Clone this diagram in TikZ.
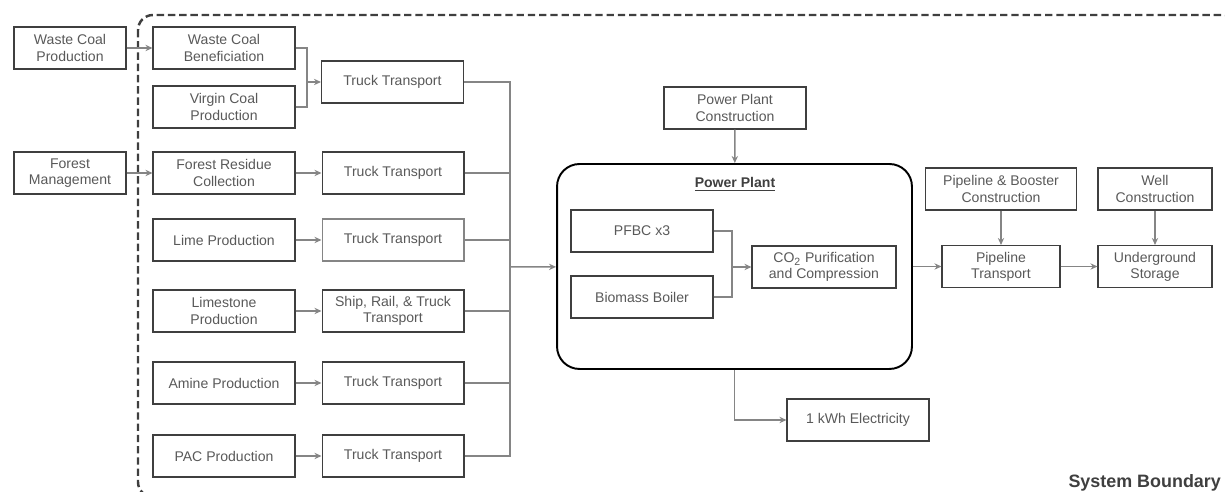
\documentclass[tikz,border=0pt]{standalone}
\usepackage{fontspec}
\setmainfont{Liberation Sans}
\usetikzlibrary{arrows.meta,positioning}
\definecolor{lcatext}{HTML}{595959}
\definecolor{lcaline}{HTML}{858585}
\definecolor{lcabox}{HTML}{3F3F3F}
\begin{document}
\begin{tikzpicture}[x=0.02cm, y=-0.02cm,
  box/.style={draw=lcabox, line width=0.6pt, align=center, text=lcatext,
    font=\fontsize{8}{9.2}\selectfont, minimum width=2.84cm,
    minimum height=0.84cm, inner sep=1pt},
  lbox/.style={box, draw=lcaline},
  flow/.style={draw=lcaline, line width=0.85pt, -{Stealth[length=4pt,width=3.6pt]}},
  link/.style={draw=lcaline, line width=0.85pt},
  >=Stealth, node distance=5.2mm]
  \useasboundingbox (0,0) rectangle (1225,492);
  % system boundary
  \begin{scope}
    \clip (0,0) rectangle (1225,492);
    \draw[lcabox, line width=1.4pt, dash pattern=on 4.2pt off 2.2pt,
      rounded corners=0.3cm] (138,15) rectangle (1238,497);
  \end{scope}
  \node[font=\bfseries\fontsize{10.2}{12}\selectfont, text=lcabox, anchor=east,
    inner sep=1pt] (sb) at (1223,483) {System Boundary};
  % feedstocks
  \node[box, minimum width=2.24cm] (wcp) at (70,48) {Waste Coal\\ Production};
  \node[box] (wcb) at (224,48) {Waste Coal\\ Beneficiation};
  \node[box] (vcp) at (224,107) {Virgin Coal\\ Production};
  \node[box] (tt1) at (392.5,82) {Truck Transport};
  \node[box, minimum width=2.24cm] (fm) at (70,173) {Forest\\ Management};
  \node[box] (frc) at (224,173) {Forest Residue\\ Collection};
  \node[box] (lime) at (224,240) {Lime Production};
  \node[box] (lst) at (224,311) {Limestone\\ Production};
  \node[box] (amine) at (224,383) {Amine Production};
  \node[box] (pac) at (224,456) {PAC Production};
  \node[box, right=of frc] (tt2) {Truck Transport};
  \node[lbox, right=of lime] (tt3) {Truck Transport};
  \node[box, right=of lst] (tt4) {Ship, Rail, \& Truck\\ Transport};
  \node[box, right=of amine] (tt5) {Truck Transport};
  \node[box, right=of pac] (tt6) {Truck Transport};
  \coordinate (cm) at (307,82);
  \draw[flow] (wcp) -- (wcb);
  \draw[link] (wcb.east) -| (cm);
  \draw[link] (vcp.east) -| (cm);
  \draw[flow] (cm) -- (tt1);
  \foreach \a/\b in {fm/frc,frc/tt2,lime/tt3,lst/tt4,amine/tt5,pac/tt6}
    \draw[flow] (\a) -- (\b);
  % power plant
  \node[draw=black, line width=1.1pt, rounded corners=0.45cm,
    minimum width=7.1cm, minimum height=4.1cm] (pp) at (734.5,266.5) {};
  \node[font=\bfseries\fontsize{8}{9.2}\selectfont, text=lcabox]
    (ppT) at (735,184) {\underline{Power Plant}};
  \node[box] (pfbc) at (642,231) {PFBC x3};
  \node[box] (bio) at (642,297) {Biomass Boiler};
  \node[box, minimum width=2.88cm] (co2) at (824,267)
    {CO\textsubscript{2} Purification\\ and Compression};
  \node[box] (ppc) at (735,108) {Power Plant\\ Construction};
  \node[box] (elec) at (858,420) {1 kWh Electricity};
  \coordinate (bus) at (510,267);
  \foreach \t in {tt1,tt2,tt3,tt4,tt5,tt6}
    \draw[link] (\t.east) -| (bus);
  \draw[flow] (bus) -- (pp);
  \draw[flow] (ppc) -- (pp);
  \coordinate (pm) at (732,267);
  \draw[link] (pfbc.east) -| (pm);
  \draw[link] (bio.east) -| (pm);
  \draw[flow] (pm) -- (co2);
  \draw[flow] (pp.south) |- (elec);
  % transport and storage
  \node[box, minimum width=3.02cm] (pbc) at (1001,189) {Pipeline \& Booster\\ Construction};
  \node[box, minimum width=2.28cm] (well) at (1155,189) {Well\\ Construction};
  \node[box, minimum width=2.36cm] (pt) at (1001,266.5) {Pipeline\\ Transport};
  \node[box, minimum width=2.28cm] (ugs) at (1155,266.5) {Underground\\ Storage};
  \draw[flow] (pp) -- (pt);
  \draw[flow] (pbc) -- (pt);
  \draw[flow] (pt) -- (ugs);
  \draw[flow] (well) -- (ugs);
\end{tikzpicture}
\end{document}
